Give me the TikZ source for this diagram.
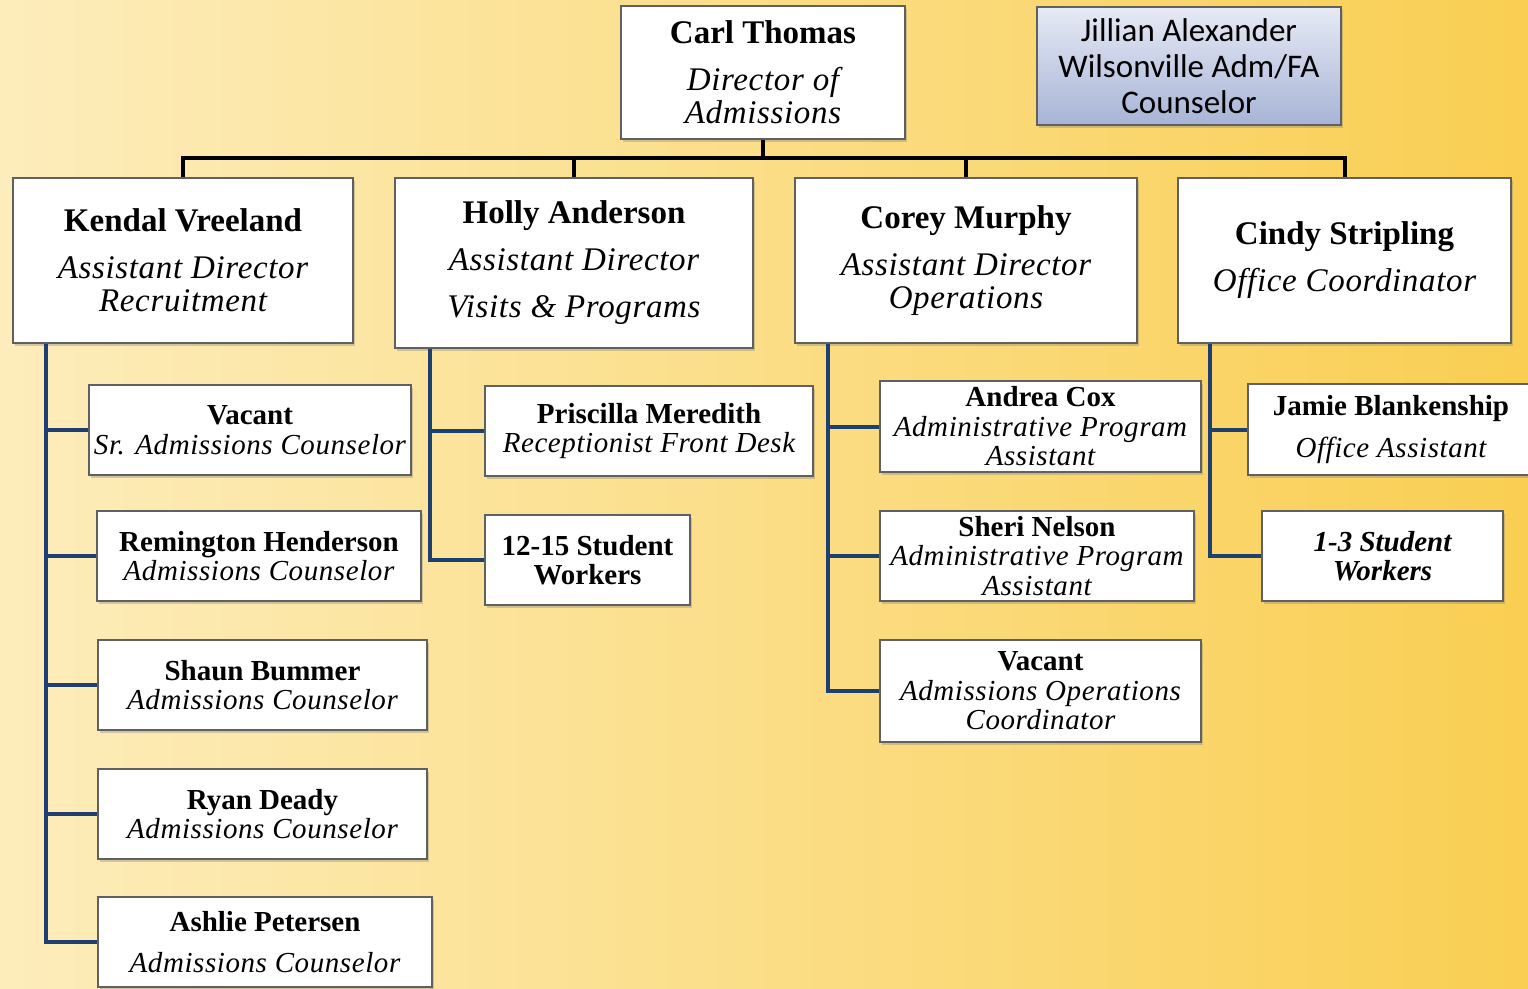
\documentclass[tikz,border=0pt]{standalone}
\usepackage{fontspec}
\setmainfont{Liberation Serif}
\newfontfamily\ttlfont[LetterSpace=2]{Liberation Serif}
\newfontfamily\calibri{Carlito}
\usetikzlibrary{shadows}
\definecolor{navy}{HTML}{1F3F73}
\definecolor{bgl}{HTML}{FDEDBC}
\definecolor{bgm}{HTML}{FCE29A}
\definecolor{bgr}{HTML}{F9CE52}
\definecolor{blueT}{HTML}{E6EAF5}
\definecolor{blueB}{HTML}{A7B4D6}
\newcommand{\nm}[1]{{\normalfont\bfseries #1}}
\begin{document}
\begin{tikzpicture}[x=1pt,y=-1pt,
        box/.style={draw=gray!75!black, line width=1.2pt, fill=white, inner sep=0pt, align=center,
          drop shadow={shadow xshift=2pt, shadow yshift=-2.5pt, opacity=.35}},
        head/.style={box, font=\fontsize{33}{33}\selectfont\ttlfont\itshape},
        sub/.style={box, font=\fontsize{29}{29.5}\selectfont\ttlfont\itshape},
        bus/.style={line width=4pt, black},
        branch/.style={line width=4pt, navy}
      ]
      \useasboundingbox (0,0) rectangle (1528,988);
      \shade[left color=bgl, middle color=bgm, right color=bgr] (0,0) rectangle (1528,988);

      % director and side post
      \node[head, minimum width=284, minimum height=133] (carl) at (763,72.5)
        {\nm{Carl Thomas}\\[14pt] Director of\\ Admissions};
      \node[box, top color=blueT, bottom color=blueB, minimum width=304, minimum height=118,
        font=\fontsize{33}{36}\selectfont\calibri] (jillian) at (1189,66)
        {Jillian Alexander\\ Wilsonville Adm/FA\\ Counselor};

      % assistant directors
      \node[head, minimum width=340, minimum height=165] (kendal) at (183,260.5)
        {\nm{Kendal Vreeland}\\[14pt] Assistant Director\\ Recruitment};
      \node[head, minimum width=358, minimum height=170] (holly) at (574,263)
        {\nm{Holly Anderson}\\[14pt] Assistant Director\\[14pt] Visits \& Programs};
      \node[head, minimum width=342, minimum height=165] (corey) at (966,260.5)
        {\nm{Corey Murphy}\\[14pt] Assistant Director\\ Operations};
      \node[head, minimum width=333, minimum height=165] (cindy) at (1344.5,260.5)
        {\nm{Cindy Stripling}\\[14pt] Office Coordinator};

      % recruitment
      \node[sub, minimum width=322, minimum height=90] (vac1) at (250,430)
        {\nm{Vacant}\\ Sr. Admissions Counselor};
      \node[sub, minimum width=324, minimum height=90] (remington) at (259,556)
        {\nm{Remington Henderson}\\ Admissions Counselor};
      \node[sub, minimum width=329, minimum height=90] (shaun) at (262.5,685)
        {\nm{Shaun Bummer}\\ Admissions Counselor};
      \node[sub, minimum width=329, minimum height=90] (ryan) at (262.5,814)
        {\nm{Ryan Deady}\\ Admissions Counselor};
      \node[sub, minimum width=334, minimum height=90] (ashlie) at (265,942)
        {\nm{Ashlie Petersen}\\[12pt] Admissions Counselor};

      % visits
      \node[sub, minimum width=328, minimum height=90] (priscilla) at (649,431)
        {\nm{Priscilla Meredith}\\ Receptionist Front Desk};
      \node[sub, minimum width=205, minimum height=90] (workers) at (587.5,560)
        {\nm{12-15 Student}\\ \nm{Workers}};

      % operations
      \node[sub, minimum width=321, minimum height=91] (andrea) at (1040.5,426.5)
        {\nm{Andrea Cox}\\ Administrative Program\\ Assistant};
      \node[sub, minimum width=314, minimum height=90] (sheri) at (1037,556)
        {\nm{Sheri Nelson}\\ Administrative Program\\ Assistant};
      \node[sub, minimum width=321, minimum height=102] (vac2) at (1040.5,691)
        {\nm{Vacant}\\ Admissions Operations\\ Coordinator};

      % office
      \node[sub, minimum width=286, minimum height=91] (jamie) at (1391,429.5)
        {\nm{Jamie Blankenship}\\[12pt] Office Assistant};
      \node[sub, minimum width=241, minimum height=90, font=\fontsize{29}{29.5}\selectfont\bfseries\itshape] (swork) at (1382.5,556)
        {1-3 Student\\ Workers};

      % top bus
      \coordinate (hbus) at (0,158);
      \draw[bus] (carl.south) -- (carl.south |- hbus);
      \draw[bus] (kendal.north) -- (kendal.north |- hbus) -- (cindy.north |- hbus) -- (cindy.north);
      \foreach \n in {holly,corey}
        \draw[bus] (\n.north) -- (\n.north |- hbus);

      % trunks
      \coordinate (ktop) at ([xshift=34pt]kendal.south west);
      \coordinate (htop) at ([xshift=36pt]holly.south west);
      \coordinate (ctop) at ([xshift=34pt]corey.south west);
      \coordinate (stop) at ([xshift=33pt]cindy.south west);
      \draw[branch] (ktop) |- (ashlie.west);
      \foreach \n in {vac1,remington,shaun,ryan}
        \draw[branch] (ktop |- \n.west) -- (\n.west);
      \draw[branch] (htop) |- (workers.west);
      \draw[branch] (htop |- priscilla.west) -- (priscilla.west);
      \draw[branch] (ctop) |- (vac2.west);
      \foreach \n in {andrea,sheri}
        \draw[branch] (ctop |- \n.west) -- (\n.west);
      \draw[branch] (stop) |- (swork.west);
      \draw[branch] (stop |- jamie.west) -- (jamie.west);
    \end{tikzpicture}
\end{document}
